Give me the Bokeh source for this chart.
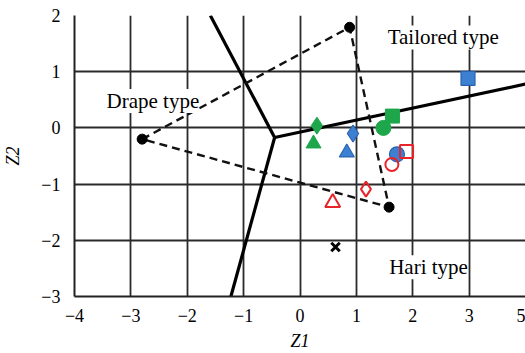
from bokeh.plotting import figure
from bokeh.models import ColumnDataSource, LabelSet, FixedTicker
from bokeh.embed import file_html
from bokeh.resources import INLINE

# Boundary lines (solid) from junction
junction = (-0.45, -0.17)
bound_end_x = [-1.59, -1.226, 4.0]
bound_end_y = [2.0, -3.0, 0.78]

# Dashed triangle vertices
tri_x = [-2.8, 0.88, 1.58, -2.8]
tri_y = [-0.2, 1.79, -1.41, -0.2]

# Markers
green_x = {"diamond": 0.30, "triangle": 0.24, "square": 1.64, "circle": 1.48}
green_y = {"diamond": 0.04, "triangle": -0.28, "square": 0.21, "circle": 0.0}
blue_x = {"diamond": 0.94, "triangle": 0.83, "circle": 1.72, "square": 2.98}
blue_y = {"diamond": -0.10, "triangle": -0.44, "circle": -0.47, "square": 0.88}
red_x = {"square": 1.89, "circle": 1.63, "diamond": 1.17, "triangle": 0.58}
red_y = {"square": -0.42, "circle": -0.65, "diamond": -1.09, "triangle": -1.33}
cross_x = [0.63]
cross_y = [-2.12]

label_text = ["Drape type", "Tailored type", "Hari type"]
label_x = [-2.61, 2.54, 2.28]
label_y = [0.48, 1.61, -2.48]

x_ticks = [-4, -3, -2, -1, 0, 1, 2, 3, 4]
x_tick_labels = ["\u22124", "\u22123", "\u22122", "\u22121", "0", "1", "2", "3", "5"]
y_ticks = [-3, -2, -1, 0, 1, 2]
y_tick_labels = ["\u22123", "\u22122", "\u22121", "0", "1", "2"]

GREEN = "#1ea64b"
BLUE = "#3d80d2"
BLUE_LINE = "#2a64b0"
RED = "#e8232a"
FONT = "Liberation Serif"

p = figure(width=525, height=353, x_range=(-4, 4.0), y_range=(-3, 2),
           output_backend="svg", toolbar_location=None,
           min_border_left=69, min_border_right=0, min_border_top=15, min_border_bottom=57)
p.outline_line_color = None

for ax in (p.xaxis[0], p.yaxis[0]):
    ax.axis_line_color = "#222222"
    ax.axis_line_width = 2
    ax.major_tick_line_color = None
    ax.minor_tick_line_color = None
    ax.major_label_text_font = FONT
    ax.major_label_text_font_size = "18px"
    ax.major_label_text_color = "black"
    ax.axis_label_text_font = FONT
    ax.axis_label_text_font_size = "18px"
    ax.axis_label_text_font_style = "italic"
    ax.axis_label_text_color = "black"

p.xaxis.ticker = FixedTicker(ticks=x_ticks)
p.xaxis.major_label_overrides = {t: l for t, l in zip(x_ticks, x_tick_labels)}
p.yaxis.ticker = FixedTicker(ticks=y_ticks)
p.yaxis.major_label_overrides = {t: l for t, l in zip(y_ticks, y_tick_labels)}
p.xaxis.axis_label = "Z1"
p.yaxis.axis_label = "Z2"
p.xaxis.major_label_standoff = 6
p.yaxis.major_label_standoff = 8
p.xaxis.axis_label_standoff = 6
p.yaxis.axis_label_standoff = 15

p.xgrid.ticker = FixedTicker(ticks=x_ticks)
p.ygrid.ticker = FixedTicker(ticks=y_ticks)
for g in (p.xgrid[0], p.ygrid[0]):
    g.grid_line_color = "#2a2a2a"
    g.grid_line_width = 1.8
    g.grid_line_alpha = 1.0

# solid boundary lines
for ex, ey in zip(bound_end_x, bound_end_y):
    p.line([junction[0], ex], [junction[1], ey], line_color="black", line_width=3.2)

# dashed triangle
p.line(tri_x, tri_y, line_color="#111111", line_width=2.4, line_dash="8 5")
p.scatter(tri_x[:3], tri_y[:3], marker="circle", size=10, color="black")

# labels with white background
ls = LabelSet(x="x", y="y", text="t", source=ColumnDataSource(dict(x=label_x, y=label_y, t=label_text)),
              text_font=FONT, text_font_size="21px", text_align="center", text_baseline="middle",
              background_fill_color="white", background_fill_alpha=1.0, text_color="black",
              level="overlay")
p.add_layout(ls)

# green markers (filled)
for m in ["diamond", "triangle", "square", "circle"]:
    sz = {"diamond": 17, "triangle": 15, "square": 14, "circle": 15}[m]
    p.scatter([green_x[m]], [green_y[m]], marker=m, size=sz, fill_color=GREEN, line_color=GREEN)

# blue markers (filled)
for m in ["diamond", "triangle", "circle", "square"]:
    sz = {"diamond": 17, "triangle": 15, "square": 14, "circle": 15}[m]
    p.scatter([blue_x[m]], [blue_y[m]], marker=m, size=sz, fill_color=BLUE, line_color=BLUE_LINE, line_width=1.2)

# red markers (open)
for m in ["square", "circle", "diamond", "triangle"]:
    sz = {"diamond": 15, "triangle": 15, "square": 13, "circle": 13}[m]
    p.scatter([red_x[m]], [red_y[m]], marker=m, size=sz, fill_color="white", fill_alpha=0.0,
              line_color=RED, line_width=2)

# black cross
p.scatter(cross_x, cross_y, marker="x", size=12, line_color="black", line_width=3)

open("out.html", "w").write(file_html(p, INLINE))
